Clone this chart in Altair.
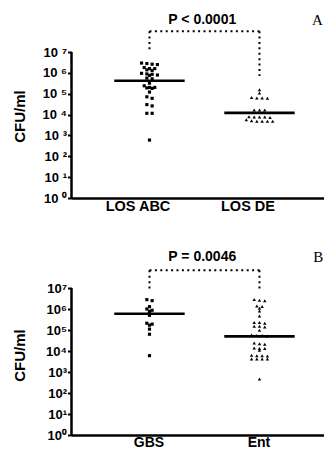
import altair as alt
import pandas as pd
import numpy as np

# ---------------- data (CFU/ml) ----------------
cats_a = ["LOS ABC", "LOS DE"]
los_abc = [2.95e6, 2.6e6, 2.8e6, 2.5e6, 1.6e6, 1.3e6, 1.8e6, 1.4e6, 1.6e6,
           8.9e5, 7.9e5, 9.5e5, 7.6e5, 8.5e5, 5.2e5, 5.6e5, 3.2e5, 2.4e5,
           2.0e5, 1.8e5, 1.9e5, 2.0e5, 1.2e5, 7.1e4, 6.0e4, 2.6e4, 3.0e4,
           1.15e4, 1.15e4, 6.0e2]
los_de = [1.55e5, 1.07e5, 6.3e4, 6.0e4, 6.3e4, 6.6e4, 1.66e4, 1.66e4, 1.66e4,
          7.6e3, 7.6e3, 7.2e3, 7.6e3, 7.9e3, 4.8e3, 4.8e3, 4.8e3, 4.8e3,
          5.0e3, 5.6e3]
medians_a = [4.2e5, 1.2e4]

cats_b = ["GBS", "Ent"]
gbs = [2.8e6, 2.5e6, 1.3e6, 1.0e6, 8.7e5, 7.8e5, 6.3e5, 5.0e5, 2.1e5, 1.9e5,
       1.7e5, 1.1e5, 6.3e4, 6.0e3]
ent = [2.6e6, 2.5e6, 2.8e6, 1.3e6, 1.1e6, 1.4e6, 8.1e5, 4.7e5, 2.3e5, 2.1e5,
       2.3e5, 1.5e5, 1.4e5, 1.5e5, 9.8e4, 5.5e4, 5.5e4, 5.8e4, 5.2e4, 2.2e4,
       2.1e4, 2.4e4, 1.3e4, 1.3e4, 1.4e4, 1.1e4, 6.0e3, 6.0e3, 6.3e3, 5.8e3,
       4.2e3, 4.2e3, 4.2e3, 4.2e3, 4.6e2]
medians_b = [5.9e5, 5.0e4]

p_texts = ["P < 0.0001", "P = 0.0046"]
panel_letters = ["A", "B"]
y_ticks = [1, 10, 100, 1e3, 1e4, 1e5, 1e6, 1e7]

# ---------------- helpers ----------------
FONT = "Liberation Sans"
W = 252
XDOM = [0.291, 2.582]
STEP = 0.048


def dot_layout(values, center):
    """Arrange values of one column in horizontal rows (dot plot)."""
    logs = np.log10(values)
    order = np.argsort(-logs)
    xs = np.zeros(len(values))
    groups, cur, start = [], [], None
    for i in order:
        if start is None or start - logs[i] > 0.09:
            if cur:
                groups.append(cur)
            cur, start = [i], logs[i]
        else:
            cur.append(i)
    if cur:
        groups.append(cur)
    for g in groups:
        n = len(g)
        for k, i in enumerate(g):
            xs[i] = center + (k - (n - 1) / 2) * STEP
    return xs


def panel(cats, v1, v2, meds, ptext, letter, top_log, h, sep_space,
          leg1, leg2, bracket_log, text_log, label_off, letter_x, title_y,
          lab_size, lab_pad):
    xscale = alt.Scale(domain=XDOM, nice=False, zero=False)
    yscale = alt.Scale(type="log", domain=[1, 10 ** top_log], nice=False)

    sq = pd.DataFrame({"x": dot_layout(v1, 1), "v": v1})
    tr = pd.DataFrame({"x": dot_layout(v2, 2), "v": v2})

    sep = " " if sep_space else ""
    sup = "['\u2070','\u00b9','\u00b2','\u00b3','\u2074','\u2075','\u2076','\u2077']"
    yaxis = alt.Axis(
        values=y_ticks, domain=False, grid=False, tickSize=4, tickWidth=2,
        tickColor="black",
        labelExpr="'10" + sep + "' + " + sup + "[round(log(datum.value)/LN10)]",
        labelFont=FONT, labelFontSize=13, labelFontWeight="bold",
        labelColor="black", labelPadding=1, labelOverlap=False,
        title="CFU/ml", titleFont=FONT, titleFontSize=15,
        titleFontWeight="bold", titleColor="black", titleX=-52, titleY=title_y,
        titleAngle=270, titleAlign="center", titleBaseline="middle")
    xaxis = alt.Axis(
        values=[1, 2], ticks=False, grid=False, title=None,
        labelExpr="datum.value == 1 ? '" + cats[0] + "' : '" + cats[1] + "'",
        labelFont=FONT, labelFontSize=lab_size, labelFontWeight="bold",
        labelColor="black", labelPadding=lab_pad, labelOffset=label_off,
        labelFlush=False, domainWidth=2.5, domainColor="black")

    base_x = alt.X("x:Q", scale=xscale, axis=xaxis)
    base_y = alt.Y("v:Q", scale=yscale, axis=yaxis)

    squares = alt.Chart(sq).mark_point(
        shape="square", filled=True, size=10, color="black", opacity=1
    ).encode(x=base_x, y=base_y)

    tris = alt.Chart(tr).mark_point(
        shape="triangle-up", filled=True, size=12, color="black", opacity=1
    ).encode(x=alt.X("x:Q", scale=xscale), y=alt.Y("v:Q", scale=yscale))

    med = pd.DataFrame({"x": [0.68, 1.68], "x2": [1.32, 2.32], "v": meds})
    med_rules = alt.Chart(med).mark_rule(strokeWidth=2.6, color="black").encode(
        x=alt.X("x:Q", scale=xscale), x2="x2:Q",
        y=alt.Y("v:Q", scale=yscale))

    yline = alt.Chart(pd.DataFrame({"lo": [1], "hi": [1e7]})).mark_rule(
        strokeWidth=2.5, color="black"
    ).encode(x=alt.value(0), y=alt.Y("lo:Q", scale=yscale), y2="hi:Q")

    br = pd.DataFrame({
        "x": [1, 1, 2], "x2": [2, 1, 2],
        "y": [10 ** bracket_log] * 3,
        "y2": [10 ** bracket_log, 10 ** leg1, 10 ** leg2]})
    bracket = alt.Chart(br).mark_rule(
        strokeWidth=2, strokeDash=[2, 3.4], color="black", strokeCap="butt"
    ).encode(x=alt.X("x:Q", scale=xscale), x2="x2:Q",
             y=alt.Y("y:Q", scale=yscale), y2="y2:Q")

    ptxt = alt.Chart(pd.DataFrame({"t": [ptext]})).mark_text(
        font=FONT, fontSize=14, fontWeight="bold", color="black",
        baseline="middle", align="center"
    ).encode(x=alt.datum(1.48), y=alt.datum(10 ** text_log), text="t:N")

    ltxt = alt.Chart(pd.DataFrame({"t": [letter]})).mark_text(
        font="Liberation Serif", fontSize=15, color="black",
        baseline="middle", align="center"
    ).encode(x=alt.datum(letter_x), y=alt.datum(10 ** text_log), text="t:N")

    return alt.layer(squares, tris, med_rules, yline, bracket, ptxt, ltxt
                     ).properties(width=W, height=h)


top = panel(cats_a, los_abc, los_de, medians_a, p_texts[0], panel_letters[0],
            top_log=9.11, h=190, sep_space=True, leg1=7.05, leg2=5.85,
            bracket_log=8.0, text_log=8.52, label_off=-12, letter_x=2.527,
            title_y=108, lab_size=14.5, lab_pad=1)
bottom = panel(cats_b, gbs, ent, medians_b, p_texts[1], panel_letters[1],
               top_log=9.048, h=190, sep_space=False, leg1=6.89, leg2=6.89,
               bracket_log=7.84, text_log=8.48, label_off=-1, letter_x=2.535,
               title_y=110, lab_size=14, lab_pad=0)

chart = alt.vconcat(top, bottom, spacing=47, bounds="flush").properties(
    padding={"left": 4.5, "top": 0, "right": 0, "bottom": 0}
).configure_view(stroke=None)

chart.save("out.html", embed_options={"renderer": "svg", "actions": False})
